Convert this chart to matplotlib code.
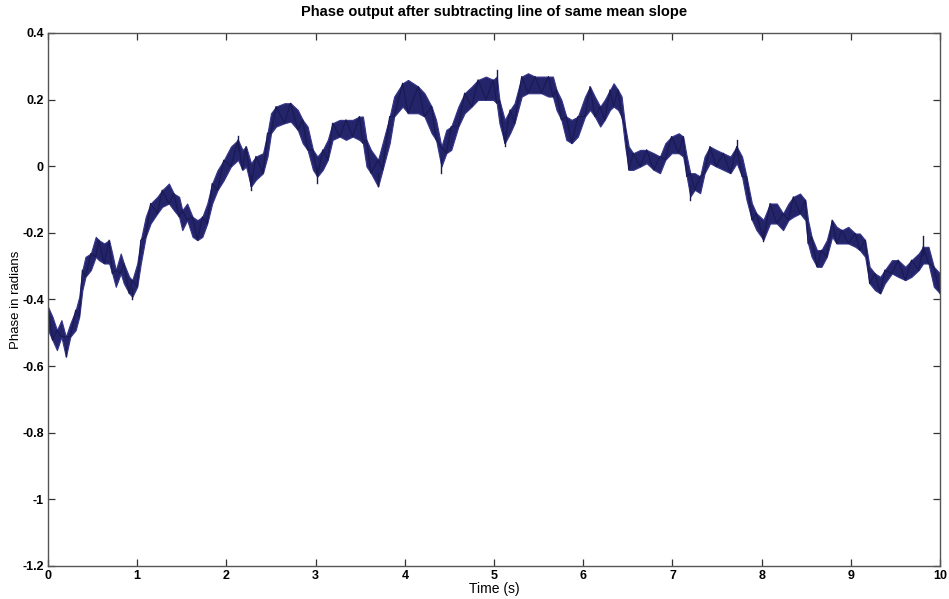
import matplotlib
matplotlib.use("Agg")
import matplotlib.pyplot as plt
import numpy as np

# Trace envelope: time (s), upper and lower edge of the phase trace (rad)
time_s = [0.00, 0.05, 0.10, 0.15, 0.20, 0.25, 0.31, 0.35, 0.385, 0.42,
          0.48, 0.535, 0.57, 0.63, 0.685, 0.72, 0.76, 0.815, 0.85, 0.91,
          0.945, 1.00, 1.04, 1.095, 1.15, 1.225, 1.28, 1.355, 1.41, 1.47,
          1.505, 1.56, 1.62, 1.675, 1.73, 1.785, 1.84, 1.90, 1.97,
          2.05, 2.13, 2.18, 2.22, 2.276, 2.33, 2.41, 2.46, 2.50, 2.556,
          2.65, 2.72, 2.80, 2.855, 2.91, 2.97, 3.02, 3.08, 3.136, 3.19,
          3.27, 3.34, 3.415, 3.49, 3.53, 3.57, 3.62, 3.70, 3.75, 3.83,
          3.88, 3.975, 4.036, 4.15, 4.22, 4.30, 4.35, 4.41, 4.465, 4.52,
          4.60, 4.67, 4.75, 4.82, 4.91, 4.99, 5.03, 5.06, 5.12, 5.18,
          5.23, 5.31, 5.38, 5.46, 5.53, 5.61, 5.66, 5.70, 5.755, 5.81,
          5.87, 5.94, 6.02, 6.076, 6.13, 6.19, 6.24, 6.30, 6.34, 6.39,
          6.43, 6.47, 6.51, 6.56, 6.64, 6.71, 6.79, 6.86, 6.92, 6.99,
          7.07, 7.12, 7.16, 7.20, 7.25, 7.31, 7.36, 7.42, 7.49, 7.57,
          7.65, 7.72, 7.78, 7.83, 7.89, 7.94, 8.02, 8.094, 8.17, 8.24,
          8.30, 8.355, 8.43, 8.49, 8.52, 8.56, 8.62, 8.67, 8.73, 8.79,
          8.84, 8.90, 8.97, 9.05, 9.10, 9.16, 9.21, 9.27, 9.33, 9.38,
          9.46, 9.53, 9.61, 9.68, 9.76, 9.81, 9.87, 9.93, 10.00]

phase_hi = [-0.422, -0.452, -0.492, -0.462, -0.512, -0.472, -0.432, -0.392, -0.312, -0.272,
            -0.262, -0.212, -0.222, -0.232, -0.222, -0.262, -0.312, -0.262, -0.292, -0.332,
            -0.342, -0.292, -0.222, -0.152, -0.112, -0.092, -0.072, -0.052, -0.082, -0.092,
            -0.132, -0.112, -0.152, -0.162, -0.152, -0.112, -0.052, -0.012, 0.018,
            0.059, 0.079, 0.049, 0.059, 0.009, 0.029, 0.039, 0.099, 0.159, 0.179,
            0.189, 0.189, 0.169, 0.139, 0.119, 0.049, 0.029, 0.049, 0.079, 0.129,
            0.139, 0.139, 0.139, 0.149, 0.149, 0.079, 0.049, 0.019, 0.069, 0.149,
            0.209, 0.249, 0.259, 0.239, 0.219, 0.179, 0.139, 0.059, 0.109, 0.119,
            0.179, 0.219, 0.239, 0.259, 0.269, 0.259, 0.269, 0.199, 0.139, 0.169,
            0.189, 0.269, 0.279, 0.269, 0.269, 0.269, 0.269, 0.229, 0.199, 0.149,
            0.139, 0.149, 0.209, 0.239, 0.209, 0.179, 0.199, 0.229, 0.249, 0.229,
            0.209, 0.119, 0.059, 0.039, 0.049, 0.049, 0.039, 0.029, 0.069, 0.089,
            0.099, 0.089, 0.029, -0.021, -0.021, -0.031, 0.029, 0.059, 0.049, 0.039,
            0.029, 0.059, 0.029, -0.031, -0.111, -0.141, -0.161, -0.112, -0.112, -0.142,
            -0.112, -0.092, -0.082, -0.102, -0.162, -0.212, -0.252, -0.252, -0.222, -0.162,
            -0.182, -0.192, -0.182, -0.202, -0.202, -0.222, -0.302, -0.322, -0.332, -0.312,
            -0.282, -0.282, -0.302, -0.282, -0.262, -0.242, -0.242, -0.302, -0.322]

phase_lo = [-0.492, -0.522, -0.552, -0.512, -0.572, -0.512, -0.492, -0.452, -0.372, -0.332,
            -0.312, -0.272, -0.282, -0.292, -0.292, -0.322, -0.362, -0.322, -0.352, -0.382,
            -0.392, -0.362, -0.292, -0.212, -0.172, -0.142, -0.122, -0.112, -0.132, -0.152,
            -0.192, -0.162, -0.212, -0.222, -0.212, -0.172, -0.112, -0.072, -0.042,
            -0.001, 0.019, -0.011, -0.001, -0.061, -0.041, -0.021, 0.029, 0.099, 0.119,
            0.129, 0.134, 0.109, 0.069, 0.049, -0.011, -0.031, -0.011, 0.019, 0.079,
            0.089, 0.079, 0.089, 0.079, 0.069, -0.001, -0.021, -0.061, -0.011, 0.069,
            0.149, 0.179, 0.159, 0.159, 0.149, 0.099, 0.079, -0.001, 0.039, 0.049,
            0.119, 0.159, 0.179, 0.199, 0.199, 0.199, 0.189, 0.129, 0.069, 0.099,
            0.129, 0.209, 0.219, 0.219, 0.219, 0.209, 0.209, 0.169, 0.139, 0.079,
            0.069, 0.089, 0.149, 0.169, 0.149, 0.119, 0.139, 0.169, 0.179, 0.169,
            0.149, 0.059, -0.011, -0.011, -0.001, 0.009, -0.011, -0.021, 0.019, 0.039,
            0.039, 0.029, -0.031, -0.091, -0.071, -0.081, -0.021, 0.009, -0.001, -0.011,
            -0.021, 0.009, -0.031, -0.101, -0.161, -0.191, -0.221, -0.172, -0.172, -0.192,
            -0.162, -0.152, -0.142, -0.162, -0.232, -0.272, -0.302, -0.302, -0.272, -0.212,
            -0.232, -0.232, -0.232, -0.242, -0.252, -0.272, -0.352, -0.372, -0.382, -0.352,
            -0.322, -0.332, -0.342, -0.332, -0.312, -0.292, -0.292, -0.362, -0.382]

# Isolated spikes poking out of the band: (time, extreme value)
spike_t = [0.20, 0.945, 2.13, 2.276, 3.02, 3.70, 4.41, 5.03, 5.12, 7.20, 7.72, 8.02, 9.81]
spike_y = [-0.57, -0.40, 0.09, -0.07, -0.05, -0.06, -0.02, 0.29, 0.06, -0.10, 0.08, -0.225, -0.21]

xticks = [0, 1, 2, 3, 4, 5, 6, 7, 8, 9, 10]
yticks = [0.4, 0.2, 0, -0.2, -0.4, -0.6, -0.8, -1, -1.2]
ytick_labels = ["0.4", "0.2", "0", "-0.2", "-0.4", "-0.6", "-0.8", "-1", "-1.2"]

navy = "#1a1a55"

plt.rcParams["font.family"] = ["Liberation Sans", "DejaVu Sans"]

fig = plt.figure(figsize=(9.49, 5.99), dpi=100)
ax = fig.add_axes([0.0506, 0.0551, 0.94, 0.8899])

t = np.array(time_s)
hi = np.array(phase_hi)
lo = np.array(phase_lo)
mid = (hi + lo) / 2

# solid band plus a trace that swings edge to edge, like the raw noisy signal
ax.fill_between(t, lo, hi, color="#24246a", linewidth=0.8, edgecolor="#35358a")
zig = np.where(np.arange(len(t)) % 2 == 0, hi, lo)
ax.plot(t, zig, color=navy, linewidth=0.9)

# spikes as thin vertical strokes from the band centre
for st, sy in zip(spike_t, spike_y):
    c = np.interp(st, t, mid)
    ax.plot([st, st], [c, sy], color=navy, linewidth=1.0)

ax.set_xlim(0, 10)
ax.set_ylim(-1.2, 0.4)
ax.set_xticks(xticks)
ax.set_yticks(yticks)
ax.set_yticklabels(ytick_labels)
ax.tick_params(direction="in", length=5, width=0.9, top=True, right=True,
               labelsize=9, colors="#333333", labelcolor="black", pad=3)
for lab in ax.get_xticklabels() + ax.get_yticklabels():
    lab.set_fontweight("bold")
for sp in ax.spines.values():
    sp.set_color("#555555")
    sp.set_linewidth(1.0)

ax.set_title("Phase output after subtracting line of same mean slope",
             fontsize=10.5, fontweight="bold", pad=12)
ax.set_xlabel("Time (s)", fontsize=10, labelpad=0)
ax.set_ylabel("Phase in radians", fontsize=9.5, labelpad=0)

fig.savefig("out.png", dpi=100, facecolor="white")
